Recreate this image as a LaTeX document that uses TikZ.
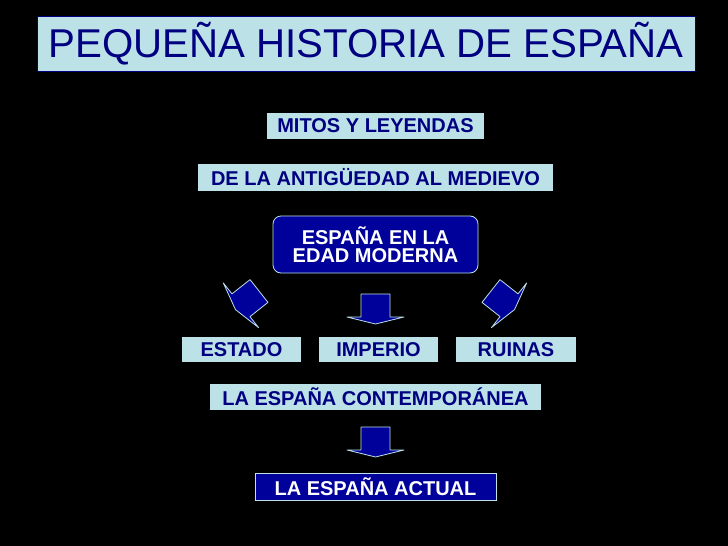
\documentclass[tikz,border=0pt]{standalone}
\usepackage{fontspec}
\setmainfont{Liberation Sans}
\usepackage{tikz}

\definecolor{celeste}{RGB}{188,226,232}
\definecolor{marino}{RGB}{0,0,128}
\definecolor{azul}{RGB}{0,0,155}

\begin{document}
\begin{tikzpicture}[x=1pt,y=-1pt,
    lnode/.style={fill=celeste, text=marino, inner sep=0pt, minimum height=26pt, font=\bfseries\fontsize{20}{18.5}\selectfont},
    dnode/.style={fill=azul, draw=celeste, line width=0.8pt, text=white, inner sep=0pt, align=center, font=\bfseries\fontsize{20}{18.5}\selectfont},
    flecha/.pic={\draw[fill=azul, draw=celeste, line width=0.8pt, line join=round] (-14.5,0) -- (14.5,0) -- (14.5,23) -- (28.5,23) -- (0,30) -- (-28.5,23) -- (-14.5,23) -- cycle;}]
    \fill[black] (0,0) rectangle (728,546);
    \useasboundingbox (0,0) rectangle (728,546);

    \node[fill=celeste, draw=marino, line width=1pt, text=marino, inner sep=0pt, minimum width=658pt, minimum height=55pt, font=\fontsize{40.2}{41}\selectfont] (titulo) at (366,43.5) {PEQUEÑA HISTORIA DE ESPAÑA};

    \node[lnode, minimum width=217pt] (mitos) at (375.5,126) {MITOS Y LEYENDAS};
    \node[lnode, minimum width=355pt, minimum height=27pt] (antigua) at (375.5,177.5) {DE LA ANTIGÜEDAD AL MEDIEVO};
    \node[dnode, rounded corners=8pt, minimum width=205pt, minimum height=57pt] (moderna) at (375.5,244.5) {ESPAÑA EN LA\\EDAD MODERNA};

    \pic[rotate=-51.7] (flechaIzq) at (259,291) {flecha};
    \pic (flechaCen) at (375.5,294) {flecha};
    \pic[rotate=51.7] (flechaDer) at (491,291) {flecha};

    \node[lnode, minimum width=119pt, minimum height=25pt] (estado) at (241.5,349.5) {ESTADO};
    \node[lnode, minimum width=119pt, minimum height=25pt] (imperio) at (378.5,349.5) {IMPERIO};
    \node[lnode, minimum width=120pt, minimum height=25pt] (ruinas) at (516,349.5) {RUINAS};

    \node[lnode, minimum width=331pt] (contemp) at (375.5,397) {LA ESPAÑA CONTEMPORÁNEA};
    \pic (flechaBaja) at (375.5,427) {flecha};
    \node[dnode, minimum width=241pt, minimum height=27pt] (actual) at (375.5,486.5) {LA ESPAÑA ACTUAL};
\end{tikzpicture}
\end{document}
